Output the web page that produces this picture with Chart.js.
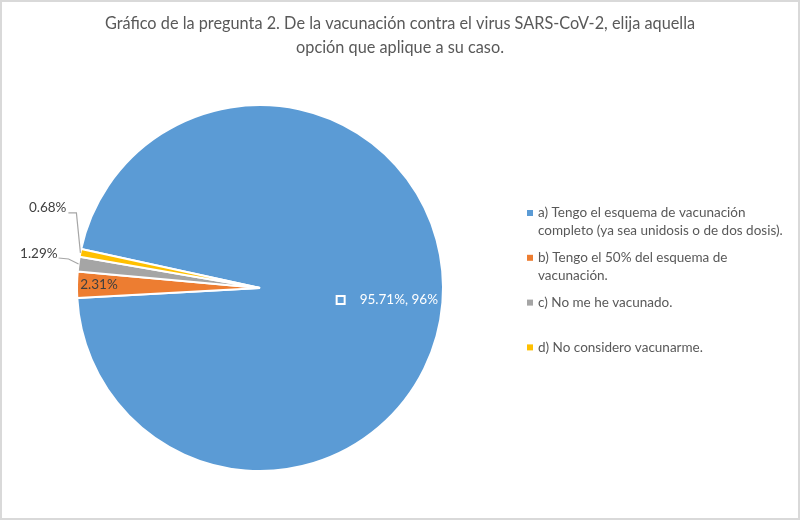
<!DOCTYPE html>
<html lang="es">
<head>
    <meta charset="UTF-8" />
    <title>Gráfico de la pregunta 2</title>
    <script src="https://cdn.jsdelivr.net/npm/chart.js@4"></script>
    <style>
        html, body {
            margin: 0;
            padding: 0;
            background: #fff;
        }
        #wrap {
            width: 800px;
            height: 520px;
        }
    </style>
</head>
<body>
    <div id="wrap"><canvas id="chart" width="800" height="520"></canvas></div>

    <script>
        const titleLines = [
            'Gráfico de la pregunta 2. De la vacunación contra el virus SARS-CoV-2, elija aquella',
            'opción que aplique a su caso.'
        ];
        const categories = [
            ['a) Tengo el esquema de vacunación', 'completo (ya sea unidosis o de dos dosis).'],
            ['b) Tengo el 50% del esquema de', 'vacunación.'],
            ['c) No me he vacunado.'],
            ['d) No considero vacunarme.']
        ];
        const values = [95.71, 2.31, 1.29, 0.68];
        const roundedValues = [96, 2, 1, 1];
        const colors = ['#5B9BD5', '#ED7D31', '#A5A5A5', '#FFC000'];

        const FONT = 'Lato, "Open Sans", sans-serif';
        const TEXT = '#595959';
        const LABEL = '#404040';

        // frame, title, legend and data labels drawn like the Excel original
        const excelLook = {
            id: 'excelLook',
            beforeDraw(chart) {
                const c = chart.ctx;
                c.save();
                c.fillStyle = '#fff';
                c.fillRect(0, 0, chart.width, chart.height);
                c.strokeStyle = '#d9d9d9';
                c.lineWidth = 2;
                c.strokeRect(1, 1, chart.width - 2, chart.height - 2);
                c.restore();
            },
            afterDatasetsDraw(chart) {
                const c = chart.ctx;
                const arcs = chart.getDatasetMeta(0).data;
                c.save();

                // title
                c.fillStyle = TEXT;
                c.font = '16.3px ' + FONT;
                c.textAlign = 'center';
                c.textBaseline = 'middle';
                titleLines.forEach((t, i) => c.fillText(t, 400, 24 + i * 24));

                // legend
                c.font = '13.5px ' + FONT;
                c.textAlign = 'left';
                categories.forEach((lines, i) => {
                    const y = 213 + i * 44.8;
                    c.fillStyle = colors[i];
                    c.fillRect(527, y - 3, 6, 6);
                    c.fillStyle = TEXT;
                    lines.forEach((t, j) => c.fillText(t, 538, y + j * 18));
                });

                const mid = (a) => {
                    const p = a.getProps(['x', 'y', 'startAngle', 'endAngle', 'outerRadius'], true);
                    const ang = (p.startAngle + p.endAngle) / 2;
                    return { p, ang, at: (r) => [p.x + Math.cos(ang) * r, p.y + Math.sin(ang) * r] };
                };
                const pct = (v) => v.toFixed(2) + '%';

                // a) inside, with legend key
                let m = mid(arcs[0]);
                let [x, y] = m.at(m.p.outerRadius * 0.75);
                c.font = '13.5px ' + FONT;
                const txt = pct(values[0]) + ', ' + roundedValues[0] + '%';
                const w = c.measureText(txt).width;
                c.fillStyle = colors[0];
                c.fillRect(x - w / 2 - 21, y - 3, 8, 8);
                c.strokeStyle = '#fff';
                c.lineWidth = 2;
                c.strokeRect(x - w / 2 - 21, y - 3, 8, 8);
                c.fillStyle = '#fff';
                c.textAlign = 'left';
                c.fillText(txt, x - w / 2 + 2, y + 1);

                // b) inside the orange slice
                m = mid(arcs[1]);
                [x, y] = m.at(m.p.outerRadius * 0.88);
                c.fillStyle = LABEL;
                c.textAlign = 'center';
                c.fillText(pct(values[1]), x, y);

                // c) and d) outside with leader lines
                const outside = [
                    { i: 2, elbow: [-10, -5], end: [-20, -6], text: [-21, -10] },
                    { i: 3, elbow: [-4, -40], end: [-12, -40], text: [-14, -45] }
                ];
                outside.forEach((o) => {
                    const mm = mid(arcs[o.i]);
                    const [ax, ay] = mm.at(mm.p.outerRadius);
                    c.strokeStyle = '#a6a6a6';
                    c.lineWidth = 1.2;
                    c.beginPath();
                    c.moveTo(ax, ay);
                    c.lineTo(ax + o.elbow[0], ay + o.elbow[1]);
                    c.lineTo(ax + o.end[0], ay + o.end[1]);
                    c.stroke();
                    c.fillStyle = LABEL;
                    c.textAlign = 'right';
                    c.fillText(pct(values[o.i]), ax + o.text[0], ay + o.text[1]);
                });

                c.restore();
            }
        };

        const ctx = document.getElementById('chart').getContext('2d');
        const chart = new Chart(ctx, {
            type: 'pie',
            data: {
                labels: categories,
                datasets: [{
                    data: values,
                    backgroundColor: colors,
                    borderColor: '#fff',
                    borderWidth: 2
                }]
            },
            options: {
                responsive: false,
                animation: false,
                rotation: 282.3,
                layout: {
                    padding: { top: 104, bottom: 48, left: 76, right: 356 }
                },
                plugins: {
                    legend: { display: false },
                    title: { display: false },
                    tooltip: { enabled: false }
                }
            },
            plugins: [excelLook]
        });
    </script>
</body>
</html>
